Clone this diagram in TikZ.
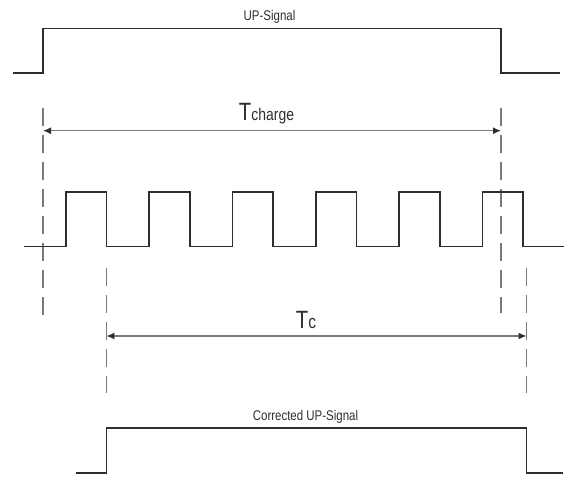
\documentclass[tikz,border=0pt]{standalone}
\usepackage{fontspec}
\newfontfamily\narrowsans[FakeStretch=0.82]{Liberation Sans}
\usetikzlibrary{arrows.meta}
\definecolor{sigcol}{HTML}{2E2E2E}
\definecolor{guidecol}{HTML}{7A7A7A}
\begin{document}
\begin{tikzpicture}[x=1pt, y=-1pt,
    signal/.style={draw=sigcol, line width=1.6pt, line join=miter},
    guide/.style={draw=guidecol, line width=1.1pt, dash pattern=on 18pt off 9pt},
    dimarrow/.style={draw=guidecol, line width=1.3pt, {Latex[length=8pt, width=7pt, sigcol]}-{Latex[length=8pt, width=7pt, sigcol]}},
    small/.style={font=\narrowsans\fontsize{14}{16}\selectfont, text=sigcol, anchor=base, inner sep=0pt},
    big/.style={font=\narrowsans, text=sigcol, anchor=base, inner sep=0pt}]
    \useasboundingbox (0, 0) rectangle (568, 477);

    % UP signal
    \node[small] (up-label) at (269.5, 20) {UP-Signal};
    \draw[signal] (13, 73) -| (43, 28.5) -| (501, 73) -- (560, 73);

    % guides for T_charge
    \coordinate (chg-top-l) at (43, 108);
    \coordinate (chg-bot-l) at (43, 324);
    \coordinate (chg-top-r) at (501, 108);
    \coordinate (chg-bot-r) at (501, 313);
    \draw[guide] (chg-top-l) -- (chg-bot-l);
    \draw[guide] (chg-top-r) -- (chg-bot-r);

    \coordinate (chg-l) at (43, 130.7);
    \coordinate (chg-r) at (501, 130.7);
    \draw[dimarrow] (chg-l) -- (chg-r);
    \node[big] (chg-label) at (266.5, 120) {{\fontsize{25}{28}\selectfont T}{\fontsize{17}{20}\selectfont charge}};

    % clock
    \draw[signal] (24, 246.5) -| (65.7, 192) -| (106.4, 246.5)
        -| (149.05, 192) -| (189.75, 246.5)
        -| (232.4, 192) -| (273.1, 246.5)
        -| (315.75, 192) -| (356.45, 246.5)
        -| (399.1, 192) -| (439.8, 246.5)
        -| (482.45, 192) -| (523.15, 246.5) -- (564, 246.5);

    % guides for T_c
    \coordinate (tc-top-l) at (106.4, 268);
    \coordinate (tc-bot-l) at (106.4, 393);
    \coordinate (tc-top-r) at (526.5, 268);
    \coordinate (tc-bot-r) at (526.5, 393);
    \draw[guide] (tc-top-l) -- (tc-bot-l);
    \draw[guide] (tc-top-r) -- (tc-bot-r);

    \coordinate (tc-l) at (106.4, 336);
    \coordinate (tc-r) at (526.5, 336);
    \draw[dimarrow] (tc-l) -- (tc-r);
    \node[big] (tc-label) at (306, 328) {{\fontsize{25}{28}\selectfont T}{\fontsize{19}{22}\selectfont c}};

    % corrected UP signal
    \node[small] (corr-label) at (305.5, 420) {Corrected UP-Signal};
    \draw[signal] (76, 473) -| (106.4, 427.7) -| (526.5, 473) -- (563, 473);
\end{tikzpicture}
\end{document}
